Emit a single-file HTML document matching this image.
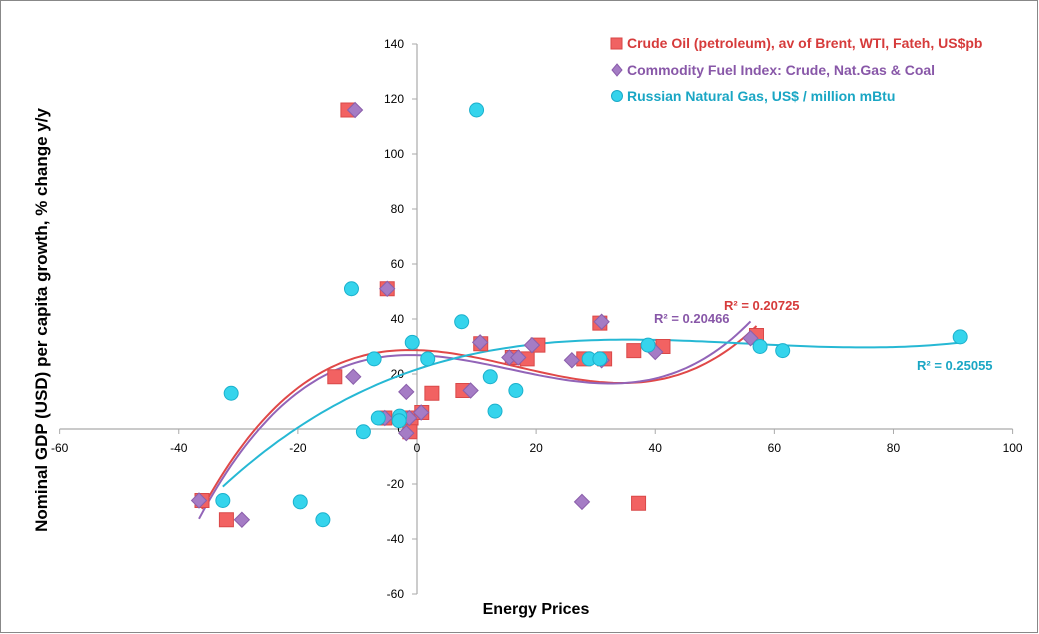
<!DOCTYPE html>
<html><head><meta charset="utf-8"><style>
body{margin:0;background:#fff;}
svg{display:block;font-family:"Liberation Sans",Arial,sans-serif;}
</style></head><body>
<svg id="chart" width="1039" height="634">
<rect x="0.5" y="0.5" width="1037" height="632" fill="#fff" stroke="#888"/>
<g id="axes"></g>
<g id="trends"></g>
<g id="marks"></g>
<text x="47" y="320" transform="rotate(-90 47 320)" text-anchor="middle" font-weight="bold" font-size="17" fill="#000">Nominal GDP (USD) per capita growth, % change y/y</text>
<text x="536" y="614" text-anchor="middle" font-weight="bold" font-size="16" fill="#000">Energy Prices</text>
<g>
 <g>
  <rect x="611" y="38" width="11" height="11" fill="#f06262" stroke="#d94545"/>
  <text x="627" y="48" font-size="14" font-weight="bold" fill="#d63b3b">Crude Oil (petroleum), av of Brent, WTI, Fateh, US$pb</text>
 </g>
 <g>
  <path d="M617 64 L622 70 L617 76 L612 70 Z" fill="#a47cc4" stroke="#8a5cab"/>
  <text x="627" y="75" font-size="14" font-weight="bold" fill="#8857a8">Commodity Fuel Index: Crude, Nat.Gas &amp;  Coal</text>
 </g>
 <g>
  <circle cx="617" cy="96" r="5.5" fill="#36d3ec" stroke="#1aaac8"/>
  <text x="627" y="101" font-size="14" font-weight="bold" fill="#1aa6c4">Russian Natural Gas, US$ / million mBtu</text>
 </g>
</g>
<text x="724" y="310" font-size="13" font-weight="bold" fill="#d63b3b">R² = 0.20725</text>
<text x="654" y="323" font-size="13" font-weight="bold" fill="#8857a8">R² = 0.20466</text>
<text x="917" y="370" font-size="13" font-weight="bold" fill="#1aa6c4">R² = 0.25055</text>
</svg>
<script>
const xTicks=[-60,-40,-20,0,20,40,60,80,100];
const yTicks=[-60,-40,-20,0,20,40,60,80,100,120,140];
const crudeX=[-11.6,-5,-13.8,-36.1,-32,-5.4,-1,-1.2,0.8,2.5,7.7,10.7,16,18.5,20.3,30.7,28,31.5,36.4,41.3,57,37.2];
const crudeY=[116,51,19,-26,-33,4,4,-1,6,13,14,31,26,25.5,30.5,38.5,25.5,25.5,28.5,30,34,-27];
const fuelX=[-10.4,-5,-10.7,-36.6,-29.4,-1.8,-1.8,-1.3,-5.4,0.7,9,10.6,15.5,17,19.3,26,31,40,56,27.7,31];
const fuelY=[116,51,19,-26,-33,13.5,-1.5,4,4,6,14,31.5,26,26,30.5,25,25,28,33,-26.5,39];
const gasX=[10,-11,7.5,-0.8,-7.2,1.8,12.3,-31.2,16.6,13.1,-6.5,-2.9,-3,-9,-32.6,-19.6,-15.8,28.9,30.7,38.8,57.6,61.4,91.2];
const gasY=[116,51,39,31.5,25.5,25.5,19,13,14,6.5,4,4.7,3,-1,-26,-26.5,-33,25.5,25.5,30.5,30,28.5,33.5];

const NS='http://www.w3.org/2000/svg';
const X=v=>417+(v)*5.956;
const Y=v=>429-(v)*2.75;
function mk(tag,attrs,parent){const e=document.createElementNS(NS,tag);for(const k in attrs)e.setAttribute(k,attrs[k]);parent.appendChild(e);return e;}
const axes=document.getElementById('axes');
let ax=mk('line',{x1:X(-60),x2:X(100),y1:Y(0),y2:Y(0),stroke:'#aaa','stroke-width':1.2},axes);


let ay=mk('line',{x1:X(0),x2:X(0),y1:Y(140),y2:Y(-60),stroke:'#aaa','stroke-width':1.2},axes);


xTicks.forEach(t=>{
 mk('line',{x1:X(t),x2:X(t),y1:Y(0),y2:Y(0)+5,stroke:'#aaa'},axes);
 const tx=mk('text',{x:X(t),y:Y(0)+23,'text-anchor':'middle','font-size':12,fill:'#000'},axes);
 tx.textContent=t;
 
 
});
yTicks.forEach(t=>{
 mk('line',{x1:X(0)-5,x2:X(0),y1:Y(t),y2:Y(t),stroke:'#aaa'},axes);
 const tx=mk('text',{x:X(0)-13,y:Y(t)+4,'text-anchor':'end','font-size':12,fill:'#000'},axes);
 tx.textContent=t;
 
 
});
function fit(xs,ys,deg){
 const n=deg+1;const A=[];for(let i=0;i<n;i++){A.push(new Array(n+1).fill(0));}
 for(let k=0;k<xs.length;k++){for(let i=0;i<n;i++){for(let j=0;j<n;j++)A[i][j]+=Math.pow(xs[k],i+j);A[i][n]+=ys[k]*Math.pow(xs[k],i);}}
 for(let i=0;i<n;i++){let p=i;for(let r=i+1;r<n;r++)if(Math.abs(A[r][i])>Math.abs(A[p][i]))p=r;[A[i],A[p]]=[A[p],A[i]];
  for(let r=0;r<n;r++){if(r===i)continue;const f=A[r][i]/A[i][i];for(let c=i;c<=n;c++)A[r][c]-=f*A[i][c];}}
 return A.map((row,i)=>row[n]/row[i]);
}
const trends=document.getElementById('trends');
function trend(xs,ys,color,name){
 const c=fit(xs,ys,3);const lo=Math.min(...xs),hi=Math.max(...xs);let d='';
 for(let i=0;i<=120;i++){const x=lo+(hi-lo)*i/120;const y=c[0]+c[1]*x+c[2]*x*x+c[3]*x*x*x;d+=(i?'L':'M')+X(x).toFixed(1)+' '+Y(y).toFixed(1);}
 const p=mk('path',{d:d,fill:'none',stroke:color,'stroke-width':2},trends);
 
 
}
trend(crudeX,crudeY,'#e04848','trendline-crude-oil');
trend(fuelX,fuelY,'#9264b8','trendline-commodity-fuel');
trend(gasX,gasY,'#26b8d4','trendline-russian-gas');
const marks=document.getElementById('marks');
crudeX.forEach((x,i)=>{
 const r=mk('rect',{x:X(x)-7,y:Y(crudeY[i])-7,width:14,height:14,fill:'#f26262',stroke:'#d94848'},marks);
 
 
});
fuelX.forEach((x,i)=>{
 const cx=X(x),cy=Y(fuelY[i]);
 const p=mk('path',{d:`M${cx} ${cy-7.5}L${cx+7.5} ${cy}L${cx} ${cy+7.5}L${cx-7.5} ${cy}Z`,fill:'#a57cc5',stroke:'#8b5fab'},marks);
 
 
});
gasX.forEach((x,i)=>{
 const c=mk('circle',{cx:X(x),cy:Y(gasY[i]),r:7,fill:'#35d4ec',stroke:'#1bb0cc'},marks);
 
 
});
</script>
</body></html>
